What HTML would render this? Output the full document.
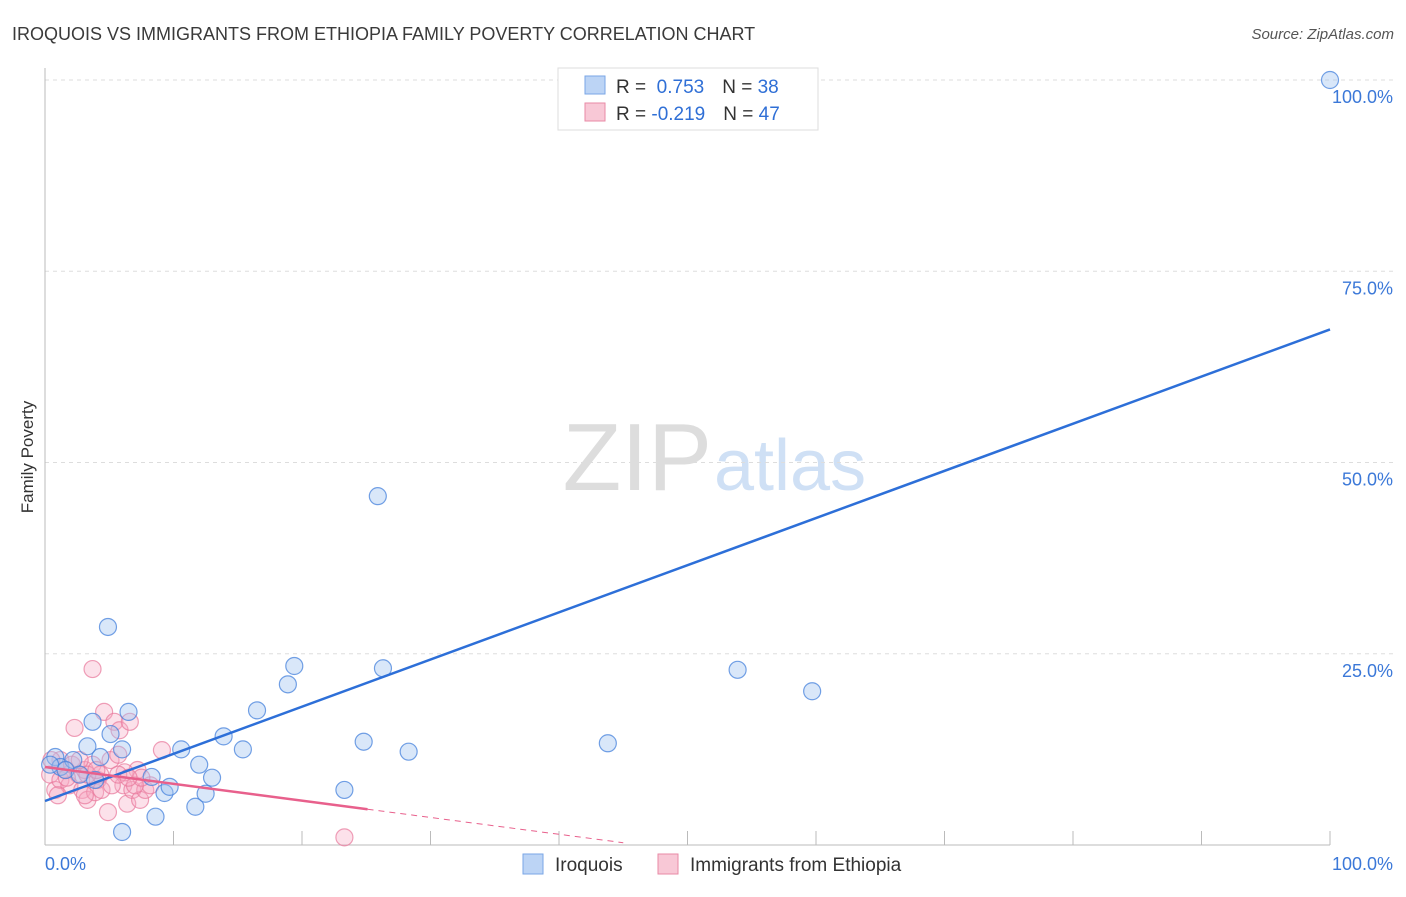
<!DOCTYPE html>
<html><head><meta charset="utf-8"><style>
body{margin:0;background:#fff;font-family:"Liberation Sans",sans-serif;}
svg text{font-family:"Liberation Sans",sans-serif;}
</style></head><body>
<svg id="chart" width="1406" height="892">
<text x="12" y="40" font-size="18" fill="#3a3a3a">IROQUOIS VS IMMIGRANTS FROM ETHIOPIA FAMILY POVERTY CORRELATION CHART</text>
<text x="1394" y="39" font-size="15" fill="#555" font-style="italic" text-anchor="end">Source: ZipAtlas.com</text>
<text x="33" y="457" font-size="17" fill="#333" text-anchor="middle" transform="rotate(-90 33 457)">Family Poverty</text>
<text x="712" y="490" font-size="96" fill="#ddd" font-family="Liberation Serif" text-anchor="end">ZIP</text>
<text x="714" y="490" font-size="72" fill="#cfe0f5">atlas</text>
<g id="grid"></g><g id="axes"></g><g id="pts"></g><g id="lines"></g>
<g>
<rect x="558" y="68" width="260" height="62" fill="#fff" stroke="#ddd"/>
<rect x="585" y="76" width="20" height="18" fill="#bcd4f5" stroke="#7aa6e6"/>
<text x="616" y="93" font-size="19" fill="#333">R = <tspan fill="#2f6fd6">&#160;0.753</tspan><tspan dx="18">N = </tspan><tspan fill="#2f6fd6">38</tspan></text>
<rect x="585" y="103" width="20" height="18" fill="#f8c8d6" stroke="#e88aa6"/>
<text x="616" y="120" font-size="19" fill="#333">R = <tspan fill="#2f6fd6">-0.219</tspan><tspan dx="18">N = </tspan><tspan fill="#2f6fd6">47</tspan></text>
</g>
<g>
<rect x="523" y="854" width="20" height="20" fill="#bcd4f5" stroke="#7aa6e6"/>
<text x="555" y="871" font-size="19" fill="#333">Iroquois</text>
<rect x="658" y="854" width="20" height="20" fill="#f8c8d6" stroke="#e88aa6"/>
<text x="690" y="871" font-size="19" fill="#333">Immigrants from Ethiopia</text>
</g>
</svg>
<script>
const blueX=[0.8,1.2,2.2,3.3,3.7,4.3,4.9,5.1,6.0,6.5,6.0,8.3,8.6,9.3,9.7,10.6,11.7,12.0,12.5,13.0,13.9,15.4,16.5,18.9,19.4,23.3,24.8,25.9,26.3,28.3,43.8,53.9,59.7,100,0.4,1.6,2.7,3.9];
const blueY=[11.5,10.2,11.1,12.9,16.1,11.5,28.5,14.5,12.5,17.4,1.7,8.9,3.7,6.8,7.6,12.5,5.0,10.5,6.7,8.8,14.2,12.5,17.6,21.0,23.4,7.2,13.5,45.6,23.1,12.2,13.3,22.9,20.1,100,10.5,9.8,9.2,8.5];
const pinkX=[0.4,0.8,1.2,1.6,1.9,2.3,2.6,2.9,3.1,3.3,3.7,3.9,4.1,4.3,4.6,4.9,5.1,5.4,5.7,5.8,6.1,6.4,6.6,6.8,7.2,7.4,7.8,8.2,9.1,3.7,23.3,1.2,1.7,2.1,3.3,4.4,5.2,6.2,7.0,7.5,3.1,1.0,0.5,4.0,5.7,6.5,2.7];
const pinkY=[9.2,7.2,8.5,9.8,7.8,15.3,9.2,7.2,9.8,5.9,10.5,6.9,8.5,9.2,17.4,4.3,11.1,16.1,11.8,15.0,7.8,5.4,16.1,7.2,9.8,5.9,7.2,7.8,12.4,23.0,1.0,11.1,8.8,10.5,9.2,7.2,7.8,9.5,7.8,8.8,6.5,6.5,11.1,9.8,9.2,8.8,11.1];
const yTicks=[25,50,75,100];
const xTicks=[0,10,20,30,40,50,60,70,80,90,100];
const blueTrend=[5.75,67.4];
const pinkTrend=[10.2,-0.22];
const X=v=>45+v*12.85, Y=v=>845-v*7.65;
const NS="http://www.w3.org/2000/svg";
function mk(p,t,a){const e=document.createElementNS(NS,t);for(const k in a)e.setAttribute(k,a[k]);p.appendChild(e);return e;}
const grid=document.getElementById('grid'),axes=document.getElementById('axes'),pts=document.getElementById('pts'),lines=document.getElementById('lines');
yTicks.forEach(t=>{const l=mk(grid,'line',{x1:45,x2:1394,y1:Y(t),y2:Y(t),stroke:'#ddd','stroke-dasharray':'4,4'});


const tx=mk(grid,'text',{x:1393,y:Y(t)+23,'font-size':18,fill:'#3b78d8','text-anchor':'end'});tx.textContent=t.toFixed(1)+'%';

});
mk(axes,'line',{x1:45,x2:45,y1:68,y2:845,stroke:'#bbb'});
mk(axes,'line',{x1:45,x2:1330,y1:845,y2:845,stroke:'#bbb'});
xTicks.slice(1).forEach(t=>{const l=mk(axes,'line',{x1:X(t),x2:X(t),y1:831,y2:845,stroke:'#bbb'});

});
[[0,'0.0%',45,'start'],[100,'100.0%',1393,'end']].forEach(d=>{const tx=mk(axes,'text',{x:d[2],y:870,'font-size':18,fill:'#3b78d8','text-anchor':d[3]});tx.textContent=d[1];

});
pinkX.forEach((x,i)=>{const c=mk(pts,'circle',{cx:X(x),cy:Y(pinkY[i]),r:8.5,fill:'rgba(246,170,195,0.35)',stroke:'rgba(232,120,155,0.7)','stroke-width':1.2});

});
blueX.forEach((x,i)=>{const c=mk(pts,'circle',{cx:X(x),cy:Y(blueY[i]),r:8.5,fill:'rgba(160,195,240,0.4)',stroke:'rgba(70,130,220,0.75)','stroke-width':1.2});

});
const bl=mk(lines,'line',{x1:X(0),y1:Y(blueTrend[0]),x2:X(100),y2:Y(blueTrend[1]),stroke:'#2d6fd8','stroke-width':2.5});


const pl=mk(lines,'line',{x1:X(0),y1:Y(pinkTrend[0]),x2:X(25.1),y2:Y(pinkTrend[0]+pinkTrend[1]*25.1),stroke:'#e8608c','stroke-width':2.5});


const pd=mk(lines,'line',{x1:X(25.1),y1:Y(pinkTrend[0]+pinkTrend[1]*25.1),x2:X(45),y2:Y(pinkTrend[0]+pinkTrend[1]*45),stroke:'#e8608c','stroke-width':1,'stroke-dasharray':'6,5'});


</script>
</body></html>
